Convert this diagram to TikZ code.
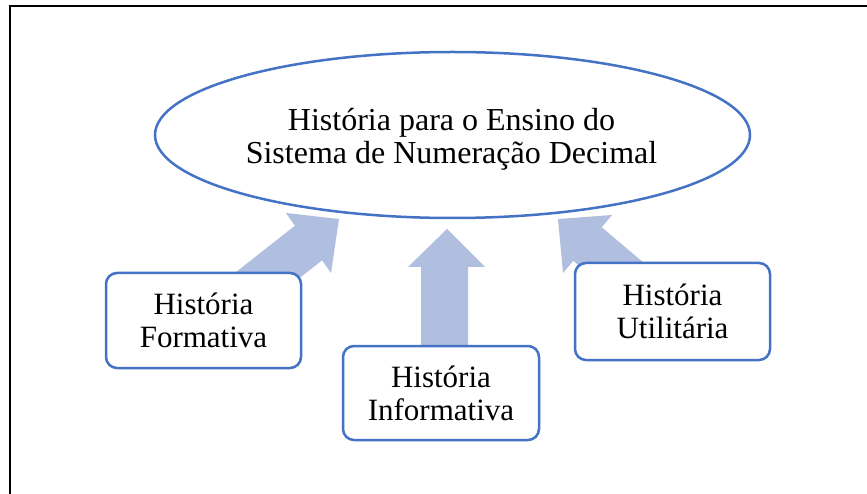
\documentclass[tikz,border=0pt]{standalone}
\usepackage{fontspec}
\setmainfont{Liberation Serif}
\usetikzlibrary{shapes.geometric}
\definecolor{oblue}{RGB}{68,114,196}
\definecolor{afill}{RGB}{176,190,224}
\tikzset{
  mainell/.style={ellipse, draw=oblue, line width=2.5pt, fill=white, minimum width=595pt, minimum height=166pt, inner sep=0pt},
  maintext/.style={align=center, inner sep=0pt, font=\fontsize{32}{33}\selectfont},
  kindbox/.style={rectangle, rounded corners=11pt, draw=oblue, line width=2.5pt, fill=white, minimum width=195pt, minimum height=95pt, inner sep=0pt, align=center, font=\fontsize{31}{33}\selectfont},
  blockarrow/.style={fill=afill, draw=none}
}
\begin{document}
\begin{tikzpicture}[x=1pt,y=-1pt]
\useasboundingbox (0,0) rectangle (867,494);
\fill[white] (0,0) rectangle (867,494);
% frame
\draw[line width=2pt, black] (10,494) -- (10,6) -- (867,6);
% block arrows
\fill[blockarrow] (339,219) -- (331,273) -- (322.1,260.3) -- (251.4,316) -- (224.2,281.4) -- (294.9,225.7) -- (286,213) -- cycle;
\fill[blockarrow] (447,229) -- (485,267) -- (468,267) -- (468,352) -- (421,352) -- (421,267) -- (408,267) -- cycle;
\fill[blockarrow] (558,219) -- (612,215) -- (601.7,227.2) -- (662.7,278.9) -- (634.3,312.5) -- (573.3,260.8) -- (563,273) -- cycle;
% nodes
\node[mainell] (main) at (452.5,135) {};
\node[maintext] (mainlabel) at (451.5,139) {História para o Ensino do\\Sistema de Numeração Decimal};
\node[kindbox] (form) at (203.5,320.5) {História\\Formativa};
\node[kindbox, minimum width=196pt, minimum height=94pt] (info) at (441,393) {História\\Informativa};
\node[kindbox, minimum height=97pt] (util) at (672.5,311.5) {História\\Utilitária};
\end{tikzpicture}
\end{document}
